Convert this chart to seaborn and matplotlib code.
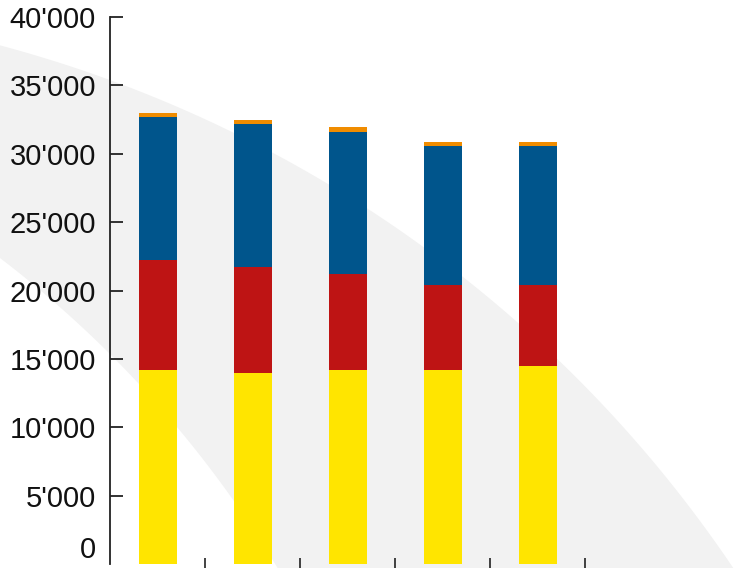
import matplotlib

matplotlib.use("Agg")
import matplotlib.pyplot as plt
import numpy as np
import pandas as pd
import seaborn as sns
from matplotlib.ticker import FuncFormatter

# stacked segments, bottom to top
CATEGORIES = ["1", "2", "3", "4", "5"]
YELLOW = [14200, 13950, 14200, 14200, 14450]
RED = [8050, 7780, 7010, 6200, 5950]
BLUE = [10450, 10430, 10410, 10150, 10150]
ORANGE = [300, 290, 300, 290, 290]

SERIES = [("yellow", YELLOW, "#ffe500"), ("red", RED, "#be1414"),
          ("blue", BLUE, "#00558c"), ("orange", ORANGE, "#f08c00")]

W, H = 742, 568
BAND_COLOR = "#f2f2f2"


def thousands(v, _pos):
    v = int(round(v))
    if v == 0:
        return "0"
    return f"{v:,}".replace(",", "'")


def draw_band(fig):
    # decorative light-grey arc behind the chart, in pixel space
    bg = fig.add_axes([0, 0, 1, 1], zorder=0)
    bg.set_xlim(0, W)
    bg.set_ylim(H, 0)
    bg.set_axis_off()
    x = np.linspace(0, W, 600)
    ao, bo, ro = -330.7, 1285.0, 1283.0
    ai, bi, ri = -672.5, 1139.5, 1108.7
    top = bo - np.sqrt(np.clip(ro**2 - (x - ao) ** 2, 0, None))
    bot = bi - np.sqrt(np.clip(ri**2 - (x - ai) ** 2, 0, None))
    bot = np.where(ri**2 - (x - ai) ** 2 > 0, bot, H + 50)
    bot = np.minimum(bot, H + 50)
    bg.fill_between(x, top, bot, where=bot > top, color=BAND_COLOR, lw=0)


def main():
    sns.set_theme(style="white")
    plt.rcParams["font.family"] = ["Liberation Sans", "DejaVu Sans"]

    fig = plt.figure(figsize=(W / 100, H / 100), dpi=100, facecolor="white")
    draw_band(fig)

    ax = fig.add_axes([110 / W, 4 / H, (W - 110) / W, (564 - 17) / H], zorder=1)
    ax.patch.set_alpha(0)

    df = pd.DataFrame({"cat": CATEGORIES})
    cum = np.zeros(len(CATEGORIES))
    layers = []
    for name, vals, color in SERIES:
        cum = cum + np.array(vals)
        layers.append((name, cum.copy(), color))
    # draw tallest first so lower segments sit on top
    for name, tops, color in reversed(layers):
        df[name] = tops
        sns.barplot(data=df, x="cat", y=name, color=color, width=0.4,
                    saturation=1, edgecolor="none", ax=ax)

    ax.set_xlim(-0.5, -0.5 + (W - 110) / 95)
    ax.set_ylim(0, 40000)
    ax.set_yticks(np.arange(0, 40001, 5000))
    ax.yaxis.set_major_formatter(FuncFormatter(thousands))
    ax.set_xticks(np.arange(0.5, 5, 1.0))
    ax.set_xticklabels([])
    ax.set_xlabel("")
    ax.set_ylabel("")

    for side in ("top", "right", "bottom"):
        ax.spines[side].set_visible(False)
    ax.spines["left"].set_color("#222222")
    ax.spines["left"].set_linewidth(1.3)
    ax.tick_params(axis="y", direction="in", length=9.5, width=1.3,
                   color="#222222", labelsize=21, labelcolor="#111111",
                   pad=10, left=True)
    ax.tick_params(axis="x", direction="inout", length=9, width=1.2,
                   color="#222222", bottom=True)
    ax.grid(False)

    # zero label sits above the baseline, with no tick mark
    zero_tick = ax.yaxis.get_major_ticks()[0]
    zero_tick.tick1line.set_visible(False)
    zero_tick.label1.set_verticalalignment("bottom")

    fig.savefig("out.png", dpi=100, facecolor="white")
    plt.close(fig)


if __name__ == "__main__":
    main()
